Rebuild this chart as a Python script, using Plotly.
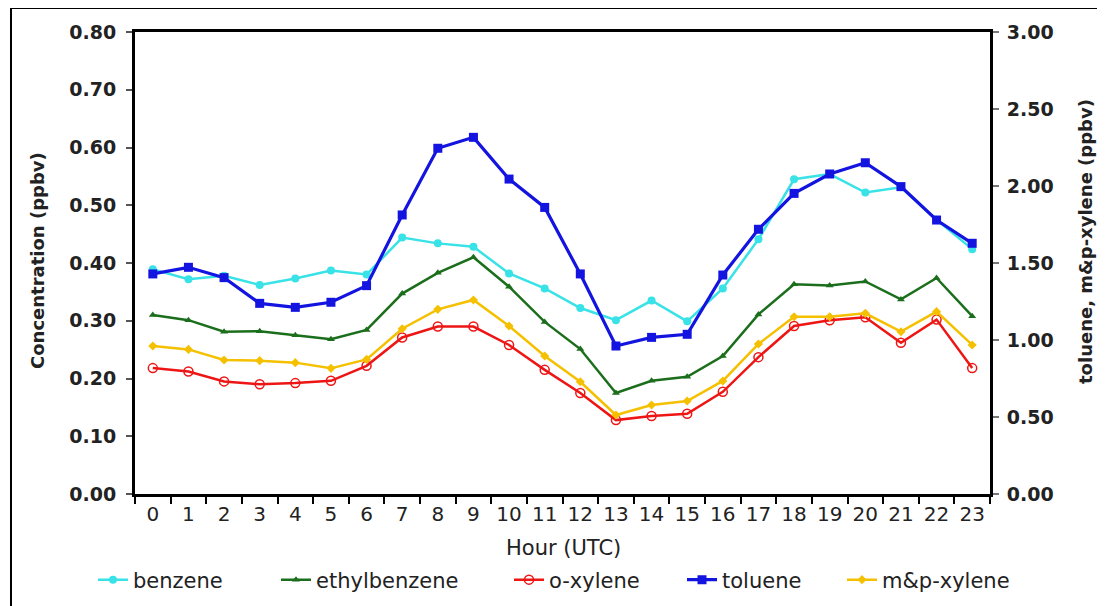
import plotly.graph_objects as go

hours = [str(h) for h in range(24)]

benzene = [0.389, 0.372, 0.378, 0.362, 0.373, 0.387, 0.380, 0.444, 0.434, 0.428, 0.382, 0.356,
           0.322, 0.301, 0.335, 0.299, 0.356, 0.441, 0.545, 0.554, 0.522, 0.531, 0.475, 0.424]
ethylbenzene = [0.310, 0.301, 0.281, 0.282, 0.275, 0.268, 0.284, 0.347, 0.383, 0.410, 0.359, 0.298,
                0.251, 0.175, 0.196, 0.203, 0.239, 0.311, 0.363, 0.361, 0.368, 0.337, 0.374, 0.308]
o_xylene = [0.218, 0.212, 0.195, 0.190, 0.192, 0.196, 0.222, 0.271, 0.290, 0.290, 0.258, 0.215,
            0.175, 0.128, 0.135, 0.139, 0.177, 0.237, 0.291, 0.301, 0.306, 0.262, 0.302, 0.218]
toluene = [1.429, 1.472, 1.405, 1.238, 1.212, 1.245, 1.353, 1.812, 2.245, 2.316, 2.045, 1.861,
           1.429, 0.961, 1.017, 1.037, 1.422, 1.719, 1.952, 2.078, 2.151, 1.996, 1.779, 1.628]
mp_xylene = [0.961, 0.939, 0.870, 0.866, 0.853, 0.816, 0.874, 1.073, 1.199, 1.260, 1.091, 0.896,
             0.729, 0.513, 0.578, 0.604, 0.734, 0.974, 1.151, 1.151, 1.173, 1.054, 1.184, 0.968]

left_ticks = [0.0, 0.1, 0.2, 0.3, 0.4, 0.5, 0.6, 0.7, 0.8]
right_ticks = [0.0, 0.5, 1.0, 1.5, 2.0, 2.5, 3.0]

FONT = "DejaVu Sans, Verdana, sans-serif"
TXT = "#222222"

fig = go.Figure()

series = [
    ("benzene", benzene, "y", "#38E2E6", dict(symbol="circle", size=8, color="#38E2E6"), 2.5, "legend"),
    ("ethylbenzene", ethylbenzene, "y", "#1B6E1B", dict(symbol="triangle-up", size=7, color="#1B6E1B"), 2.5, "legend2"),
    ("o-xylene", o_xylene, "y", "#EE1515", dict(symbol="circle-open", size=9, color="#EE1515", line=dict(width=1.5)), 2.5, "legend3"),
    ("toluene", toluene, "y2", "#1414E0", dict(symbol="square", size=9, color="#1414E0"), 3.2, "legend4"),
    ("m&p-xylene", mp_xylene, "y2", "#F5C000", dict(symbol="diamond", size=7, color="#F5C000"), 2.5, "legend5"),
]

for name, vals, yax, color, marker, lw, leg in series:
    fig.add_trace(go.Scatter(
        x=hours, y=vals, name=name, yaxis=yax, mode="lines+markers",
        line=dict(color=color, width=lw), marker=marker, legend=leg,
    ))

# page body offset of 8 px is compensated; positions below are screen pixels
OFF = 8
W, H = 1105 - OFF, 606 - OFF
L, R, T, B = 135, 990, 32, 494
pw, ph = R - L, B - T


def px_x(px):
    return (px - L) / pw


def px_y(py):
    return (B - py) / ph


legend_starts = [99, 282, 515, 688, 848]
legend_names = ["legend", "legend2", "legend3", "legend4", "legend5"]
leg_layout = {}
for nm, xs in zip(legend_names, legend_starts):
    leg_layout[nm] = dict(
        x=px_x(xs - 6), y=px_y(580), xanchor="left", yanchor="middle",
        orientation="h", bgcolor="rgba(0,0,0,0)",
        font=dict(family=FONT, size=21, color=TXT),
    )

fig.update_layout(
    width=W, height=H,
    margin=dict(l=L - OFF, r=W - (R - OFF), t=T - OFF, b=H - (B - OFF), autoexpand=False),
    paper_bgcolor="white", plot_bgcolor="white",
    showlegend=True,
    xaxis=dict(
        type="category", range=[-0.5, 23.5], tickson="boundaries", tickangle=0,
        ticks="outside", ticklen=7, tickwidth=2, tickcolor="black",
        showline=True, linecolor="black", linewidth=3, mirror=True,
        showgrid=False, zeroline=False, ticklabelstandoff=0,
        tickfont=dict(family=FONT, size=20, color=TXT),
    ),
    yaxis=dict(
        range=[0, 0.8], tickvals=left_ticks, tickformat=".2f",
        ticks="outside", ticklen=6, tickwidth=1.5, tickcolor="#555555",
        showline=True, linecolor="black", linewidth=3,
        showgrid=False, zeroline=False, ticklabelstandoff=6,
        tickfont=dict(family=FONT, size=19, color=TXT, weight="bold"),
    ),
    yaxis2=dict(
        range=[0, 3.0], tickvals=right_ticks, tickformat=".2f",
        overlaying="y", side="right",
        ticks="outside", ticklen=6, tickwidth=1.5, tickcolor="#777777",
        showline=True, linecolor="black", linewidth=3,
        showgrid=False, zeroline=False, ticklabelstandoff=4,
        tickfont=dict(family=FONT, size=19, color=TXT, weight="bold"),
    ),
    **leg_layout,
)

fig.add_annotation(
    text="Hour (UTC)", xref="paper", yref="paper", x=px_x(563), y=px_y(548),
    xanchor="center", yanchor="middle", showarrow=False,
    font=dict(family=FONT, size=21, color=TXT),
)
fig.add_annotation(
    text="Concentration (ppbv)", xref="paper", yref="paper", x=px_x(37), y=px_y(261),
    xanchor="center", yanchor="middle", showarrow=False, textangle=-90,
    font=dict(family=FONT, size=18, color=TXT, weight="bold"),
)
fig.add_annotation(
    text="toluene, m&p-xylene (ppbv)", xref="paper", yref="paper", x=px_x(1085), y=px_y(242),
    xanchor="center", yanchor="middle", showarrow=False, textangle=-90,
    font=dict(family=FONT, size=18, color=TXT, weight="bold"),
)

fig.add_shape(
    type="rect", xref="paper", yref="paper",
    x0=px_x(11), x1=px_x(1130), y0=px_y(630), y1=px_y(8),
    line=dict(color="black", width=2), fillcolor="rgba(0,0,0,0)", layer="below",
)

fig.write_html("out.html")
